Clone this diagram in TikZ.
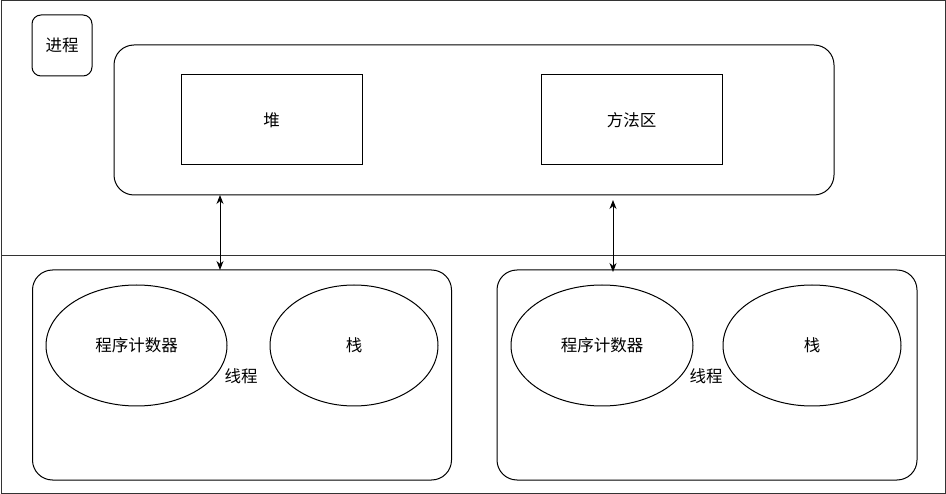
\documentclass[tikz,border=0pt]{standalone}
\usepackage{fontspec}
\setmainfont{Noto Sans CJK SC}
\usetikzlibrary{arrows.meta,positioning,shapes.geometric}
\tikzset{
  >={Stealth[length=9pt,width=7pt]},
  every node/.style={font=\fontsize{16.5}{20}\selectfont},
  area/.style={draw, line width=1pt, rounded corners=20pt},
  tag/.style={draw, line width=1pt, rounded corners=9pt},
  block/.style={draw, line width=1pt},
  part/.style={draw, line width=1pt, ellipse},
  link/.style={<->, line width=1pt},
}

\begin{document}
\begin{tikzpicture}[x=1pt, y=-1pt]
    \useasboundingbox (0,0) rectangle (946,494);
    % process / thread bands
    \draw[line width=1pt, draw=black!80] (1,1) rectangle (945,256);
    \draw[line width=1pt, draw=black!80] (1,256) rectangle (945,493);

    \node[tag, minimum width=60pt, minimum height=61pt] (proc) at (62,45.5) {进程};
    \node[area, minimum width=720pt, minimum height=150pt] (shared) at (474,120) {};
    \node[block, minimum width=181pt, minimum height=90pt] (heap) at (271.5,120) {堆};
    \node[block, minimum width=181pt, minimum height=90pt] (meth) at (631.5,120) {方法区};

    % threads
    \node[area, minimum width=419pt, minimum height=210pt] (t1) at (242,375) {};
    \node[area, minimum width=420pt, minimum height=210pt] (t2) at (707,375) {};
    \node[part, minimum width=181pt, minimum height=121pt] (pc1) at (136.5,345.5) {程序计数器};
    \node[part, minimum width=168pt, minimum height=121pt] (st1) at (354,345.5) {栈};
    \node[part, minimum width=182pt, minimum height=121pt] (pc2) at (602,345.5) {程序计数器};
    \node[part, minimum width=178pt, minimum height=121pt] (st2) at (812,345.5) {栈};
    \node (lab1) at (241,376) {线程};
    \node (lab2) at (706,376) {线程};

    \coordinate (a1) at (220,195);
    \coordinate (b1) at (220,270);
    \coordinate (a2) at (613,200);
    \coordinate (b2) at (613,272);
    \path[link]
      (a1) edge (b1)
      (a2) edge (b2);
\end{tikzpicture}
\end{document}
